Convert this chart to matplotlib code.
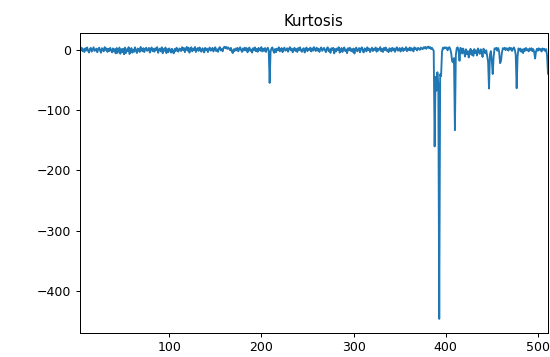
import numpy as np
import matplotlib
matplotlib.use("Agg")
import matplotlib.pyplot as plt

# Kurtosis values, feature index 3 .. 511
kurt_head = [
    1.8, -0.8, 3.2, -2.7, 0.6, -3.9, 2.3, -1.4, 3.6, -1.8,
    -4.7, 1.2, 2.9, -3.3, 0.5, 3.9, -2.1, -0.9, 1.7, -4.4,
    1.1, 3.3, -1.5, -5.1, 2.4, 0.3, -2.9, 4.2, -0.6, 2.0,
    -3.8, 1.4, -2.4, 3.0, -1.2, -4.5, 2.1, -3.2, 0.8, -6.3,
    2.7, -5.4, -1.1, 3.5, -6.8, 0.9, -4.2, 1.5, -7.7, 3.3,
    -5.9, 0.6, -2.3, 4.1, -7.2, -1.4, 2.6, -5.0, 0.2, -3.6,
    3.8, -1.7, -5.6, 1.8, 0.5, -3.9, 4.4, -0.8, -2.7, 2.4,
    -4.1, 1.2, 3.2, -2.0, -0.3, 2.9, -4.8, 0.9, 3.6, -2.6,
    1.4, -3.5, 2.3, -0.9, 4.2, -5.3, 0.3, 1.7, -3.0, 3.9,
    -6.0, 1.1, -1.8, 3.5, -5.7, 0.8, -4.4, 2.1, -0.5, -5.0,
    1.5, -3.8, -6.2, 1.2, -2.6, 3.2, -1.4, -3.3, 2.0, 0.6,
    -2.4, 4.1, -0.6, 2.7, -4.2, 0.9, 4.5, -1.7, 3.3, -5.1,
    1.4, 3.8, -2.9, 1.8, -1.1, 4.4, -3.9, 0.5, 2.6, -2.1,
    3.6, -1.2, -3.5, 2.3, 0.3, -4.7, 3.0, -0.8, 1.7, -4.1,
    0.9, 3.5, -1.8, -0.6, 2.9, -3.0, 1.2, 3.9, -2.3, 0.5,
    -3.6, 2.1, 4.2, -1.4, 0.8, -2.7, 3.2, 4.8, 2.4, 4.4,
    1.2, 3.6, 1.7, -0.9, 2.9, -3.3, -5.7, 0.6, -2.3, 1.8,
    -1.1, 3.0, -2.9, 1.4, 3.9, -0.5, -3.8, 2.0, -1.5, 3.3,
    -1.2, 2.6, -4.4, 0.8, 3.5, -2.0, 0.2, -5.0, 2.4, -0.9,
    3.8, -2.6, 1.1, -3.6, 2.9, 0.3, -1.7, 4.2, -3.0, 1.4,
    -2.1, 2.7, -3.9, 0.6, 3.2, -1.5,
    -55.2,
]

kurt_mid = [
    -3.2, 2.0, 3.6, -2.4, -5.3, 1.2, -4.1, 1.7, -0.8, 3.9,
    -2.9, 0.5, 2.6, -4.2, 0.9, 3.3, -1.8, -0.6, 2.3, -3.5,
    1.4, 4.1, -1.2, 1.8, -4.5, 0.6, 3.0, -2.3, 1.1, -3.9,
    2.7, -0.9, 3.8, -1.7, -3.6, 0.8, 2.4, -4.8, 0.3, 3.5,
    -2.6, 1.2, -0.5, 3.2, -3.0, 2.1, -1.8, 4.2, 0.2, -2.4,
    3.3, -1.4, 1.5, -3.8, 0.9, 3.6, -2.1, 0.5, 2.9, -1.1,
    -4.2, 1.7, 3.9, -2.7, 0.6, -5.4, 2.3, -0.3, 3.0, -6.2,
    1.1, -3.3, 2.0, -0.8, 4.1, -5.0, -1.5, 2.7, -3.9, 1.4,
    3.6, -2.3, 0.3, -5.9, 2.4, -1.2, 3.2, -2.0, 0.8, -3.6,
    1.8, -6.5, 0.9, 3.3, -2.9, -0.6, 2.6, -4.4, 1.2, 3.8,
    -1.7, -4.7, 2.1, 0.5, -3.0, 3.9, -0.9, 1.5, -4.1, 0.6,
    3.2, -2.4, 1.4, -0.5, 3.6, -3.5, 1.8, -1.5, 0.8, 4.2,
    -2.7, 1.1, -3.8, 2.9, -0.6, 3.5, -2.0, 0.2, -4.2, 2.3,
    0.9, -2.9, 3.0, -1.1, 2.0, -3.6, 1.2, 3.9, -1.8, -0.8,
    2.7, -3.2, 0.6, 3.3, -2.3, 1.4, -0.3, 4.1, -2.6, 1.7,
    -0.9, 3.5, -1.5, 2.4, 0.3, -3.0, 3.8, 1.1, 2.1, -1.4,
    2.9, 1.2, -0.4, 3.4, 1.8, 0.6, 3.9, 2.1, 4.6, 1.3,
    3.7, 5.0, 2.4, 4.2, 1.0, 3.1, 0.5,
]

kurt_tail = [
    -2.0, -160.5, -45.0, -68.0, -37.5, -58.0, -446.4, -41.0, -44.0, -3.5,
    3.2, 1.5, 4.0, 2.4, 3.6, -1.2, 2.8, 4.1, 0.6,
    -6.0, -19.5, -21.0, -14.0, -133.5, -9.0, 2.5, 3.8, -1.5, -18.5, 3.0, 1.2, -6.5,
    1.8, -4.0, -11.5, 0.6, -7.2, -2.5, -13.0, -3.8, 1.4, -8.6,
    -2.1, -10.4, 0.9, -5.5, -1.3, -9.8, 2.0, -3.4, -7.0, 0.5,
    -4.6, -12.2, 1.6, -2.8, -6.3, -1.0, -11.0,
    -20.0, -64.5, -8.0, -2.5, -18.0, -40.5, -12.0, 2.0,
    1.1, 3.0, -1.8, 2.6, -4.0, -22.5, -19.0, -5.0, 2.3,
    0.8, 3.1, -0.9, 2.4, 1.0, -1.7, 3.3, 0.2, 2.7, -2.2, 1.5, 3.6, -0.4,
    -9.0, -64.0, -11.0,
    2.1, -1.4, 1.7, -3.6, 0.4, -5.8, 1.2, -2.0, 2.8, -1.1, 0.6, -3.0, 1.9, -0.8, 2.4, -2.6, 0.9,
    -4.2, -14.8, -3.0,
    1.5, -1.9, 2.2, -0.6, 1.0, -3.1, 2.0, -0.3, 1.4, -2.4, 0.7, -10.0, -40.0,
]

kurtosis = kurt_head + kurt_mid + kurt_tail
features = np.arange(3, 3 + len(kurtosis))

fig = plt.figure(figsize=(550 / 90, 357 / 90), dpi=90)
ax = fig.add_axes([79.5 / 550, 24.5 / 357, 468.5 / 550, 299.5 / 357])

ax.plot(features, kurtosis, color="#1f77b4", linewidth=1.5)
ax.set_title("Kurtosis")
ax.set_xlim(2.7, 511)
ax.set_xticks([100, 200, 300, 400, 500])
ax.set_yticks([0, -100, -200, -300, -400])

fig.savefig("out.png", dpi=90)
